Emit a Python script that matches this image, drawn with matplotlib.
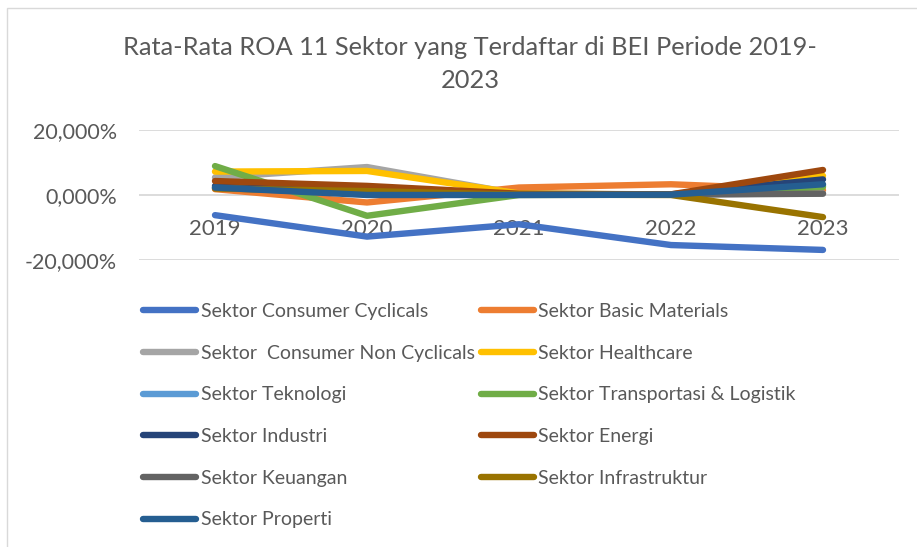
import matplotlib
matplotlib.use("Agg")
import matplotlib.pyplot as plt
from matplotlib.patches import Rectangle
from matplotlib.ticker import FuncFormatter

plt.rcParams['font.family'] = ['Lato', 'DejaVu Sans']

years = ["2019", "2020", "2021", "2022", "2023"]
sectors = [
    "Sektor Consumer Cyclicals",
    "Sektor Basic Materials",
    "Sektor  Consumer Non Cyclicals",
    "Sektor Healthcare",
    "Sektor Teknologi",
    "Sektor Transportasi & Logistik",
    "Sektor Industri",
    "Sektor Energi",
    "Sektor Keuangan",
    "Sektor Infrastruktur",
    "Sektor Properti",
]
consumer_cyclicals = [-6.2, -12.8, -9.0, -15.4, -16.9]
basic_materials = [1.8, -2.3, 2.3, 3.3, 1.5]
consumer_non_cyclicals = [5.4, 8.6, 0.3, 0.2, 0.5]
healthcare = [7.2, 7.4, 0.5, 0.1, 5.9]
teknologi = [2.5, 1.8, 0.2, 0.1, 3.0]
transportasi = [8.9, -6.4, 0.0, 0.1, 2.5]
industri = [2.8, 0.8, 0.1, 0.2, 4.8]
energi = [4.3, 2.8, 0.4, 0.2, 7.7]
keuangan = [2.2, 0.5, 0.1, 0.1, 0.4]
infrastruktur = [2.0, 1.2, 0.1, 0.0, -6.8]
properti = [2.3, 0.0, 0.0, 0.1, 3.3]

series = [consumer_cyclicals, basic_materials, consumer_non_cyclicals, healthcare,
          teknologi, transportasi, industri, energi, keuangan, infrastruktur, properti]
colors = ["#4472C4", "#ED7D31", "#A5A5A5", "#FFC000", "#5B9BD5", "#70AD47",
          "#264478", "#9E480E", "#636363", "#997300", "#255E91"]

W, H = 917, 547
fig = plt.figure(figsize=(W / 100, H / 100), dpi=100)
fig.patch.set_facecolor("white")

# outer chart border
fig.patches.append(Rectangle((7 / W, -0.1), 1.2, 1 - 8 / H + 0.1, transform=fig.transFigure,
                             fill=False, edgecolor="#D9D9D9", linewidth=1.0))

ax = fig.add_axes([139 / W, 1 - 260 / H, 760 / W, 130 / H])
x = list(range(len(years)))
handles = []
for s, c, name in zip(series, colors, sectors):
    h, = ax.plot(x, s, color=c, linewidth=4.6, solid_capstyle="round",
                 solid_joinstyle="round", label=name)
    handles.append(h)

ax.set_xlim(-0.5, len(years) - 0.5)
ax.set_ylim(-20, 20)
ax.set_yticks([-20, 0, 20])
ax.yaxis.set_major_formatter(FuncFormatter(lambda v, p: f"{v:.3f}%".replace(".", ",")))
ax.grid(axis="y", color="#D9D9D9", linewidth=1.3)
ax.set_axisbelow(True)
for sp in ["top", "right", "left"]:
    ax.spines[sp].set_visible(False)
ax.spines["bottom"].set_position(("data", 0))
ax.spines["bottom"].set_visible(False)
ax.set_xticks(x)
ax.set_xticklabels(years)
ax.tick_params(axis="x", length=0, pad=17, labelsize=16, labelcolor="#595959")
ax.tick_params(axis="y", length=0, pad=16, labelsize=15.5, labelcolor="#595959")

fig.text(470 / W, 1 - 48 / H, "Rata-Rata ROA 11 Sektor yang Terdaftar di BEI Periode 2019-",
         ha="center", va="center", fontsize=18.3, color="#595959")
fig.text(470 / W, 1 - 80 / H, "2023", ha="center", va="center", fontsize=18.3, color="#595959")

order = [0, 2, 4, 6, 8, 10, 1, 3, 5, 7, 9]
leg = fig.legend([handles[i] for i in order], [sectors[i] for i in order],
                 ncol=2, loc="upper left", bbox_to_anchor=(143 / W, 1 - 303 / H),
                 frameon=False, fontsize=14, handlelength=2.75, handletextpad=0.22,
                 labelspacing=1.27, columnspacing=0.3, borderpad=0, borderaxespad=0)
for t in leg.get_texts():
    t.set_color("#595959")
for l in leg.get_lines():
    l.set_linewidth(4.6)
    l.set_solid_capstyle("round")

fig.savefig("out.png", dpi=100)
